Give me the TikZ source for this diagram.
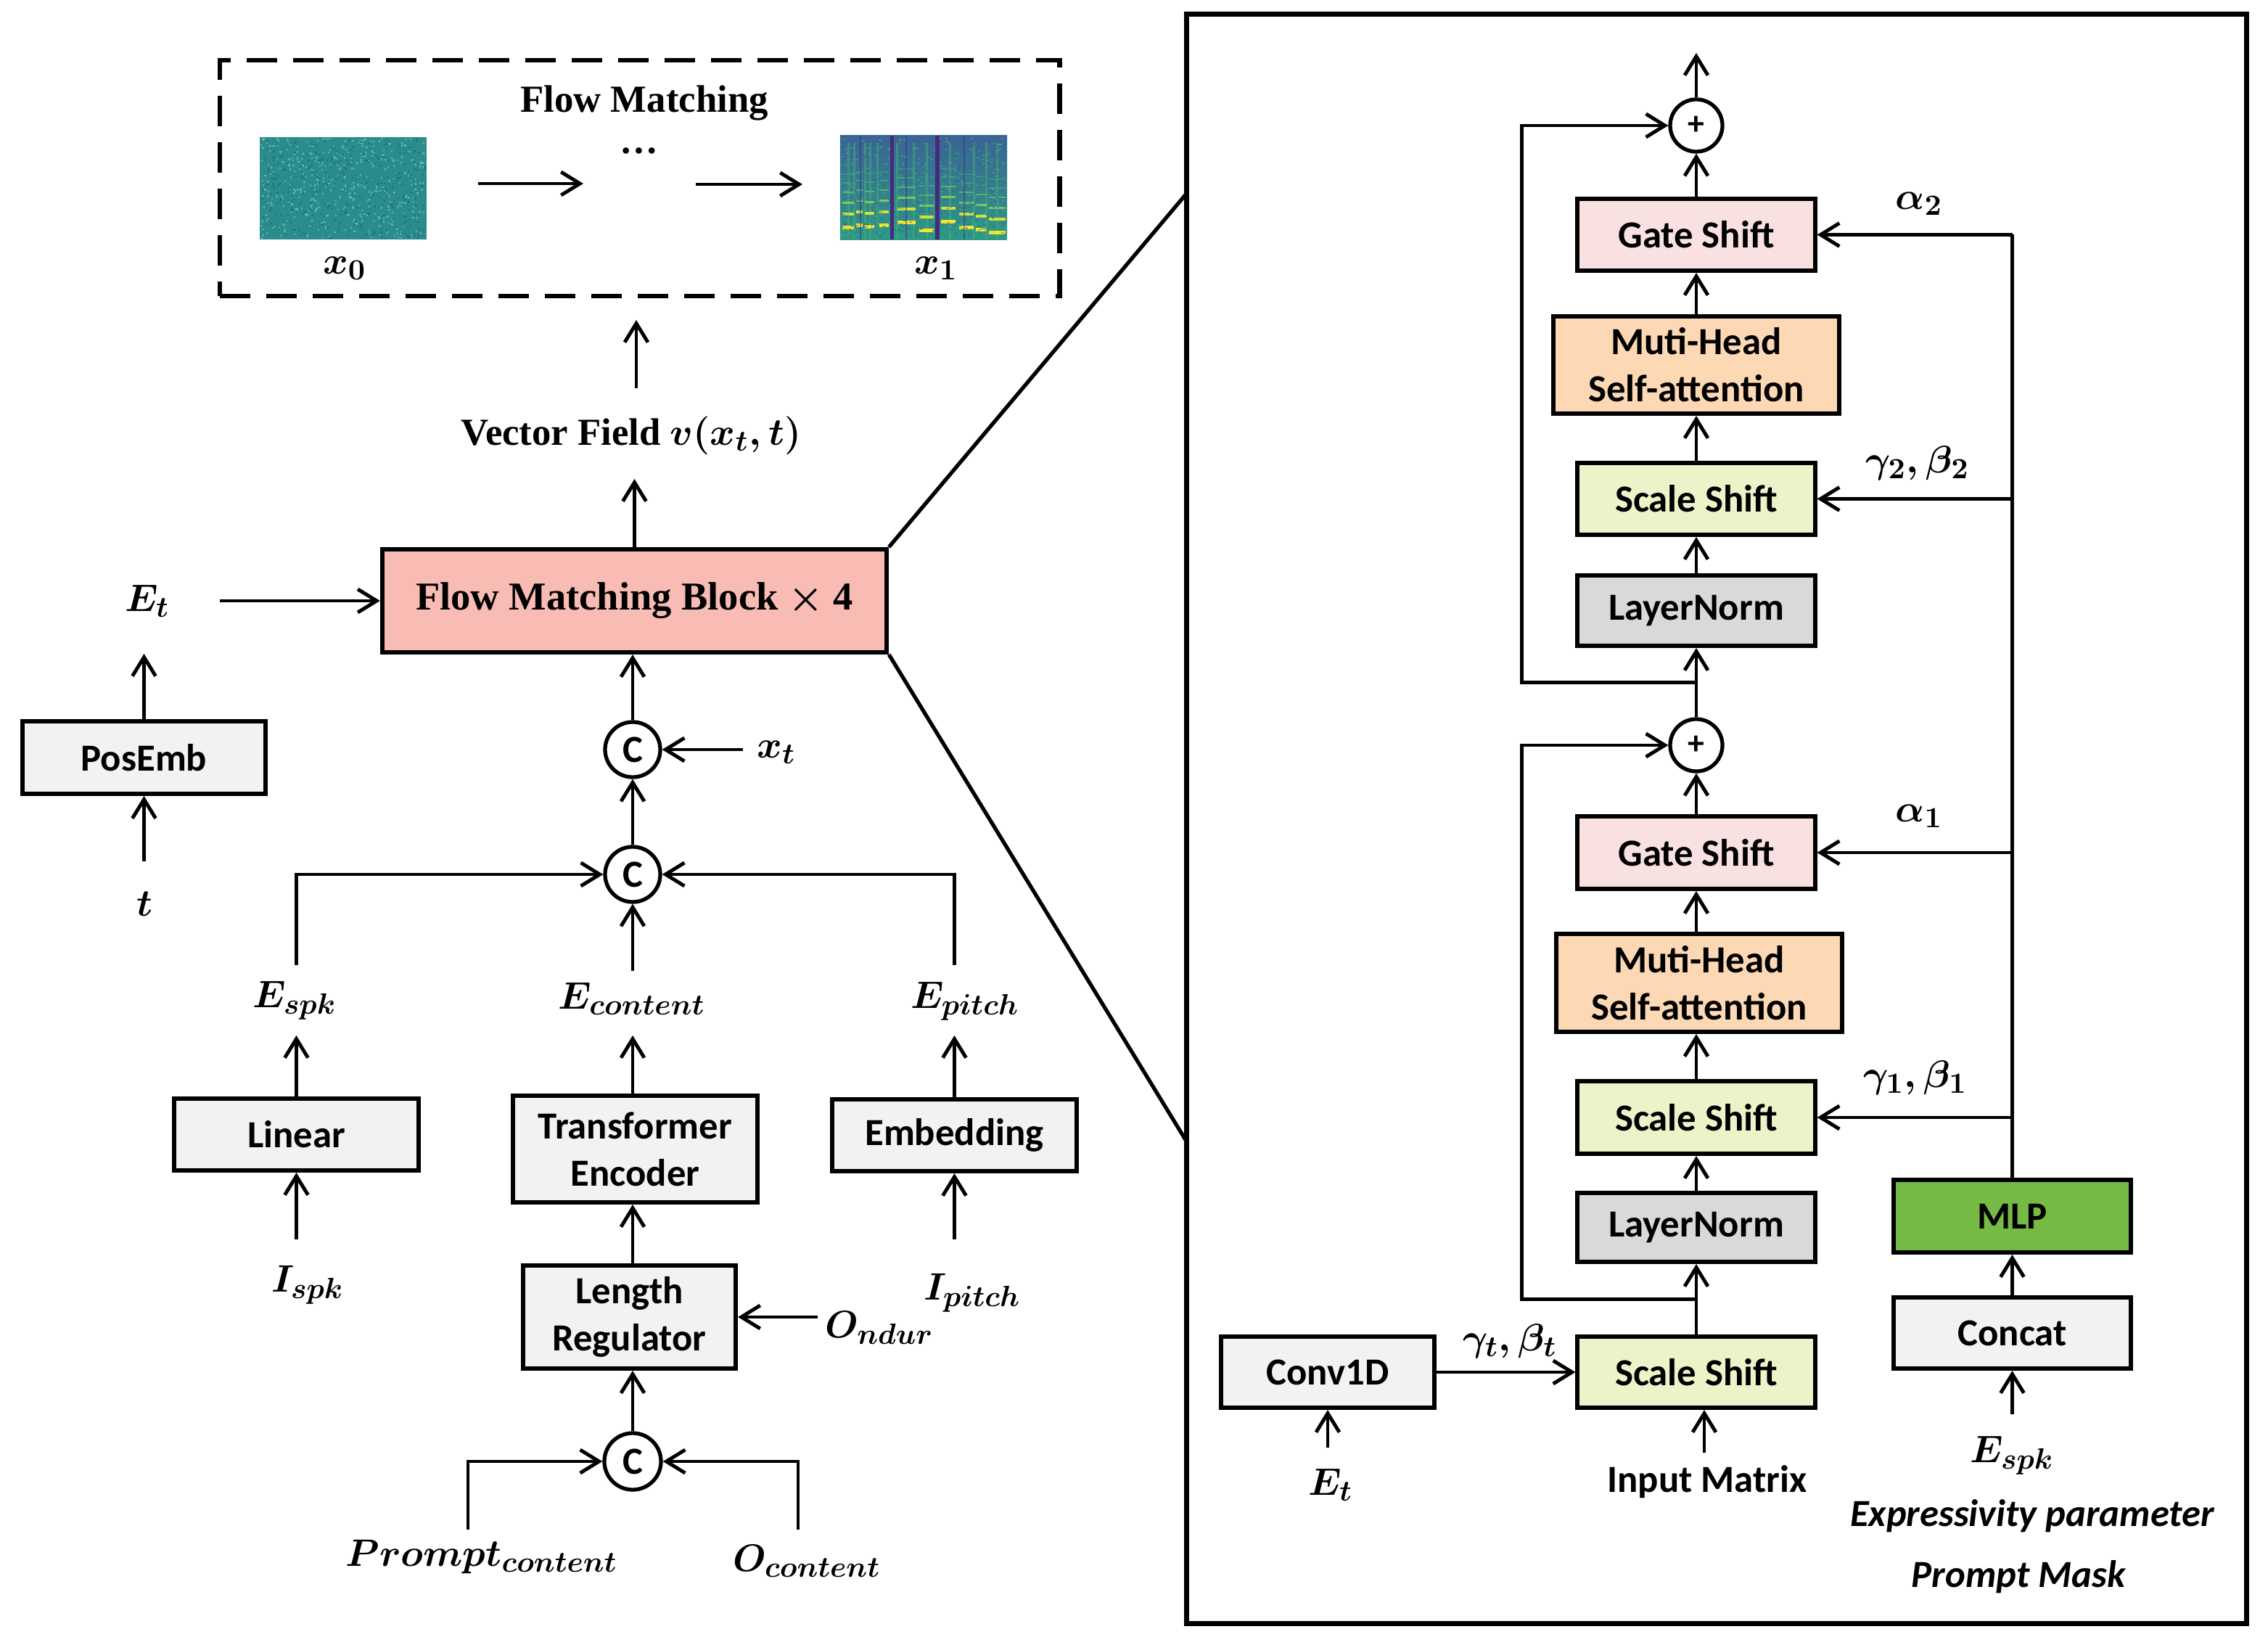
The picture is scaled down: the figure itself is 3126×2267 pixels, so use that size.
\RequirePackage{fix-cm}
\documentclass[tikz,border=0pt]{standalone}
\usepackage{fontspec}
\setmainfont{Liberation Serif}
\setsansfont{Carlito}
\DeclareMathSizes{15}{15}{11.5}{9}
\DeclareMathSizes{15.5}{15.5}{11.5}{9}
\usetikzlibrary{arrows.meta,calc}
\definecolor{fmred}{HTML}{F8BCB5}
\definecolor{bgray}{HTML}{F2F2F2}
\definecolor{gpink}{HTML}{F9E1E1}
\definecolor{morange}{HTML}{FCD8B5}
\definecolor{syellow}{HTML}{EDF3C8}
\definecolor{lgray}{HTML}{D9D9D9}
\definecolor{mgreen}{HTML}{74BA45}
\definecolor{noiseA}{HTML}{2A8C8D}
\definecolor{noiseL}{HTML}{5DB8A8}
\definecolor{noiseD}{HTML}{236F83}
\definecolor{spTop}{HTML}{3A6494}
\definecolor{spMid}{HTML}{2A8A8C}
\definecolor{spBot}{HTML}{2B9A86}
\definecolor{spDark}{HTML}{462A7C}
\definecolor{spY}{HTML}{F2E62A}
\definecolor{spG}{HTML}{5CC46A}
\begin{document}
\begin{tikzpicture}[x=0.01cm,y=-0.01cm,
  box/.style={draw, line width=1.7pt, fill=#1, inner sep=0pt, align=center,
    font=\sffamily\bfseries\fontsize{15}{18.5}\selectfont},
  box/.default=bgray,
  arr/.style={line width=1.4pt, -{Straight Barb[length=2.6mm,width=3.2mm]}},
  ln/.style={line width=1.4pt},
  lab/.style={inner sep=0pt, font=\fontsize{15}{17}\selectfont\boldmath},
  ttl/.style={inner sep=0pt, font=\bfseries\fontsize{15}{18}\selectfont\boldmath},
  cat/.style={circle, draw, line width=1.5pt, fill=white, minimum size=0.76cm, inner sep=0pt,
    font=\sffamily\bfseries\fontsize{15}{16}\selectfont},
  add/.style={circle, draw, line width=1.5pt, fill=white, minimum size=0.72cm, inner sep=0pt,
    font=\sffamily\bfseries\fontsize{13}{15}\selectfont},
  sflab/.style={inner sep=0pt, font=\sffamily\bfseries\fontsize{15}{18}\selectfont},
  sfit/.style={inner sep=0pt, font=\sffamily\bfseries\itshape\fontsize{15}{18}\selectfont},
]
\useasboundingbox (0,0) rectangle (3126,2267);

% ================= LEFT: flow matching box =================
\node[draw, line width=1.8pt, dash pattern=on 0.42cm off 0.22cm, minimum width=11.57cm,
      minimum height=3.25cm, inner sep=0pt] (fmbox) at (881.5,245.5) {};
\node[ttl] (fmtitle) at (888,142) {Flow Matching};

% x0 noise image
\node[minimum width=2.30cm, minimum height=1.41cm, fill=noiseA, inner sep=0pt] (x0img) at (473,259.5) {};
\pgfmathsetseed{11}
\foreach \i in {1,...,450}{
  \pgfmathsetmacro\rx{359+226*rnd}
  \pgfmathsetmacro\ry{190+137*rnd}
  \fill[noiseL] (\rx,\ry) rectangle ++(2.2,2.2);
}
\foreach \i in {1,...,350}{
  \pgfmathsetmacro\rx{359+226*rnd}
  \pgfmathsetmacro\ry{190+137*rnd}
  \fill[noiseD] (\rx,\ry) rectangle ++(2.2,2.2);
}

% x1 spectrogram
\node[minimum width=2.30cm, minimum height=1.43cm, inner sep=0pt,
      top color=spTop, middle color=spMid, bottom color=spBot] (x1img) at (1273,258.5) {};
\foreach \a in {10,18,33,40,50,77,100,118,150,183,200,215}{
  \fill[spG!55!spMid, opacity=0.55] (1158+\a,197) rectangle (1158+\a+2.5,330);
}
\foreach \xa/\xb/\yb in {3/19/127,22/31/124,34/47/126,54/67/124,79/104/120,109/129/131,139/159/119,164/184/127,187/202/130,205/228/134}{
  \fill[spY] (1158+\xa,187+\yb-2.5) rectangle (1158+\xb,187+\yb+2.5);
  \fill[spY!80!spG] (1158+\xa,187+\yb-21) rectangle (1158+\xb,187+\yb-17);
  \fill[spG!70!spY, opacity=0.9] (1158+\xa,187+\yb-36) rectangle (1158+\xb,187+\yb-33);
  \fill[spG, opacity=0.8] (1158+\xa,187+\yb-50) rectangle (1158+\xb,187+\yb-47.5);
  \fill[spG!60!spMid, opacity=0.7] (1158+\xa,187+\yb-63) rectangle (1158+\xb,187+\yb-61);
  \fill[spG!40!spMid, opacity=0.6] (1158+\xa,187+\yb-75) rectangle (1158+\xb,187+\yb-73);
}
\pgfmathsetseed{5}
\foreach \i in {1,...,500}{
  \pgfmathsetmacro\rx{1159+226*rnd}
  \pgfmathsetmacro\ry{188+138*rnd}
  \fill[spTop, opacity=0.5] (\rx,\ry) rectangle ++(3,2);
}
\foreach \i in {1,...,250}{
  \pgfmathsetmacro\rx{1159+226*rnd}
  \pgfmathsetmacro\ry{188+138*rnd}
  \fill[spG!60!spMid, opacity=0.6] (\rx,\ry) rectangle ++(3,2);
}
\fill[spDark] (1158+69,187) rectangle (1158+74,330);
\fill[spDark] (1158+131,187) rectangle (1158+137,330);
\foreach \a in {27,90,170}{
  \fill[spDark, opacity=0.5] (1158+\a,187) rectangle (1158+\a+2,330);
}

\node[ttl, anchor=base] (dots) at (881,212) {\dots};
\coordinate (a1s) at (659,253);
\coordinate (a1e) at (804,253);
\coordinate (a2s) at (959,254);
\coordinate (a2e) at (1106,254);
\draw[arr] (a1s) -- (a1e);
\draw[arr] (a2s) -- (a2e);
\node[lab] (x0lab) at (475,370) {$x_0$};
\node[lab] (x1lab) at (1290,370) {$x_1$};

% vector field
\node[ttl] (vf) at (870,600) {Vector Field $v(x_t,t)$};
\coordinate (vfs) at (877,535);
\coordinate (vfe) at (877,441);
\draw[arr] (vfs) -- (vfe);

% flow matching block
\node[box=fmred, minimum width=6.95cm, minimum height=1.42cm,
      font=\bfseries\fontsize{15.5}{18}\selectfont\boldmath] (fmb) at (874.5,828) {Flow Matching Block $\times$ 4};
\coordinate (vfin) at (874.5,660);
\draw[arr] (fmb.north) -- (vfin);

% time embedding
\node[lab] (etl) at (203,828) {$E_t$};
\coordinate (ets) at (303,828);
\draw[arr] (ets) -- (fmb.west);
\node[box, minimum width=3.35cm, minimum height=1.00cm] (posemb) at (198.5,1044) {PosEmb};
\coordinate (etbot) at (198.5,901);
\draw[arr] (posemb.north) -- (etbot);
\node[lab] (tl) at (199,1246) {$t$};
\coordinate (tin) at (198.5,1187);
\draw[arr] (tin) -- (posemb.south);

% concat nodes
\node[cat] (c1) at (872,1033) {C};
\node[cat] (c2) at (872,1205) {C};
\draw[arr] (c1.north) -- (c1.north |- fmb.south);
\draw[arr] (c2) -- (c1);
\node[lab] (xtl) at (1070,1037) {$x_t$};
\coordinate (xts) at (1024,1033);
\draw[arr] (xts) -- (c1.east);

\node[lab] (espkl) at (406,1379) {$E_{spk}$};
\node[lab] (econl) at (871,1376) {$E_{content}$};
\node[lab] (epitl) at (1330,1380) {$E_{pitch}$};
\coordinate (espkup) at (408.5,1330);
\coordinate (econup) at (872,1338);
\coordinate (epitup) at (1315.5,1330);
\draw[arr] (espkup) |- (c2.west);
\draw[arr] (epitup) |- (c2.east);
\draw[arr] (econup) -- (c2.south);

% encoders
\coordinate (lblrow) at (0,1427);
\node[box, minimum width=3.37cm, minimum height=0.99cm] (lin) at (408.5,1563.5) {Linear};
\node[box, minimum width=3.37cm, minimum height=1.47cm] (te) at (875.5,1583.5) {Transformer\\Encoder};
\node[box, minimum width=3.37cm, minimum height=0.99cm] (emb) at (1315.5,1564.5) {Embedding};
\draw[arr] (lin.north) -- (lin.north |- lblrow);
\draw[arr] (te.north -| econup) -- (econup |- lblrow);
\draw[arr] (emb.north) -- (emb.north |- lblrow);

\node[lab] (ispkl) at (424,1771) {$I_{spk}$};
\node[lab] (ipitl) at (1340,1782) {$I_{pitch}$};
\coordinate (ispkup) at (408.5,1708);
\coordinate (ipitup) at (1315.5,1708);
\draw[arr] (ispkup) -- (lin.south);
\draw[arr] (ipitup) -- (emb.south);

\node[box, minimum width=2.93cm, minimum height=1.42cm] (lr) at (867.5,1815) {Length\\Regulator};
\draw[arr] (lr.north -| econup) -- (econup |- te.south);
\node[lab] (ondl) at (1212,1830) {$O_{ndur}$};
\coordinate (onds) at (1127,1815);
\draw[arr] (onds) -- (lr.east);

\node[cat, minimum size=0.78cm] (c3) at (872,2014) {C};
\draw[arr] (c3.north) -- (c3.north |- lr.south);
\coordinate (pup) at (645,2108);
\coordinate (oup) at (1100,2108);
\draw[arr] (pup) |- (c3.west);
\draw[arr] (oup) |- (c3.east);
\node[lab] (pcl) at (664,2146) {$Prompt_{content}$};
\node[lab] (ocl) at (1112,2151) {$O_{content}$};

% ================= RIGHT PANEL =================
\node[draw, line width=1.8pt, minimum width=14.60cm, minimum height=22.17cm, inner sep=0pt] (panel) at (2366,1128.5) {};
\coordinate (zt) at (1636,266);
\coordinate (zb) at (1636,1574);
\draw[line width=1.5pt] (fmb.north east) -- (zt);
\draw[line width=1.5pt] (fmb.south east) -- (zb);

\node[add] (plus2) at (2338,173) {+};
\coordinate (outtop) at (2338,73);
\draw[arr] (plus2) -- (outtop);
\node[box=gpink, minimum width=3.27cm, minimum height=0.99cm] (gs2) at (2338,323.5) {Gate Shift};
\node[box=morange, minimum width=3.94cm, minimum height=1.34cm] (mh2) at (2338,503) {Muti-Head\\Self-attention};
\node[box=syellow, minimum width=3.27cm, minimum height=0.99cm] (ss2) at (2338,687.5) {Scale Shift};
\node[box=lgray, minimum width=3.27cm, minimum height=0.97cm] (ln2) at (2338,841.5) {LayerNorm};
\node[add] (plus1) at (2338,1027) {+};
\node[box=gpink, minimum width=3.27cm, minimum height=1.00cm] (gs1) at (2338,1175) {Gate Shift};
\node[box=morange, minimum width=3.94cm, minimum height=1.35cm] (mh1) at (2342,1354.5) {Muti-Head\\Self-attention};
\node[box=syellow, minimum width=3.27cm, minimum height=1.00cm] (ss1) at (2338,1540) {Scale Shift};
\node[box=lgray, minimum width=3.27cm, minimum height=0.95cm] (ln1) at (2338,1691.5) {LayerNorm};
\node[box=syellow, minimum width=3.27cm, minimum height=0.98cm] (sst) at (2338,1891) {Scale Shift};

\draw[arr] (sst.north) -- (ln1.south);
\draw[arr] (ln1.north) -- (ss1.south);
\draw[arr] (ss1.north) -- (ss1.north |- mh1.south);
\draw[arr] (ss1.north |- mh1.north) -- (gs1.south);
\draw[arr] (gs1.north) -- (plus1.south);
\draw[arr] (plus1.north) -- (ln2.south);
\draw[arr] (ln2.north) -- (ss2.south);
\draw[arr] (ss2.north) -- (mh2.south);
\draw[arr] (mh2.north) -- (gs2.south);
\draw[arr] (gs2.north) -- (plus2.south);

\coordinate (sk1) at ($(sst.north)!0.5!(ln1.south)$);
\draw[arr] (sk1) -| ($(plus1.west)+(-202,0)$) -- (plus1.west);
\coordinate (sk2) at ($(plus1.north)!0.5!(ln2.south)$);
\draw[arr] (sk2) -| ($(plus2.west)+(-202,0)$) -- (plus2.west);

% conv1d branch
\node[box, minimum width=2.94cm, minimum height=0.98cm] (conv) at (1830,1891) {Conv1D};
\draw[arr] (conv.east) -- (sst.west);
\node[lab] (gtl) at (2081,1848) {$\gamma_t, \beta_t$};
\node[lab] (et2l) at (1834,2046) {$E_t$};
\coordinate (et2up) at (1830,1995);
\draw[arr] (et2up) -- (conv.south);
\node[sflab] (inml) at (2353,2042) {Input Matrix};
\coordinate (inmup) at (2349,2002);
\draw[arr] (inmup) -- (inmup |- sst.south);

% MLP branch
\node[box=mgreen, minimum width=3.27cm, minimum height=1.00cm] (mlp) at (2773.5,1676) {MLP};
\node[box, minimum width=3.27cm, minimum height=0.98cm] (concat) at (2773.5,1837) {Concat};
\draw[arr] (concat.north) -- (mlp.south);
\node[lab] (espk2l) at (2773,2006) {$E_{spk}$};
\coordinate (espk2up) at (2773.5,1949);
\draw[arr] (espk2up) -- (concat.south);
\node[sfit] (expl) at (2801,2089) {Expressivity parameter};
\node[sfit] (pml) at (2782,2173) {Prompt Mask};

\coordinate (vtop) at (mlp.north |- gs2.east);
\draw[ln] (mlp.north) -- (vtop);
\draw[arr] (vtop) -- (gs2.east);
\draw[arr] (mlp.north |- ss2.east) -- (ss2.east);
\draw[arr] (mlp.north |- gs1.east) -- (gs1.east);
\draw[arr] (mlp.north |- ss1.east) -- (ss1.east);
\node[lab] (a2l) at (2645,281) {$\alpha_2$};
\node[lab] (gb2l) at (2643,638) {$\gamma_2, \beta_2$};
\node[lab] (a1l) at (2645,1125) {$\alpha_1$};
\node[lab] (gb1l) at (2640,1485) {$\gamma_1, \beta_1$};
\end{tikzpicture}
\end{document}
